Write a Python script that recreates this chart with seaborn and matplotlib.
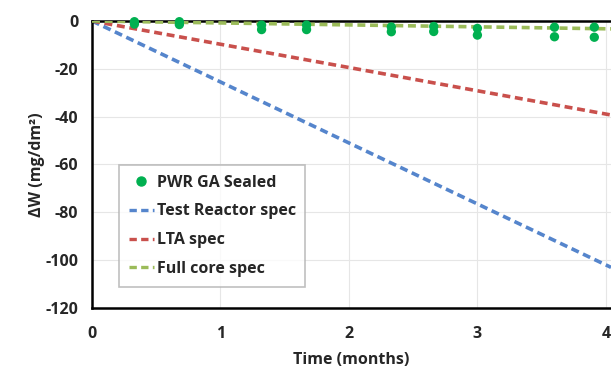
import pandas as pd
import numpy as np
import matplotlib
matplotlib.use("Agg")
import matplotlib.pyplot as plt
from matplotlib.lines import Line2D
import seaborn as sns

# measured weight change, PWR GA sealed (two specimens per time)
sample_time = [0.33, 0.33, 0.68, 0.68, 1.32, 1.32, 1.67, 1.67, 2.33, 2.33,
               2.66, 2.66, 3.0, 3.0, 3.6, 3.6, 3.91, 3.91]
sample_dw = [-0.3, -1.3, -0.3, -1.5, -1.7, -3.6, -1.7, -3.6, -2.5, -4.5,
             -2.3, -4.4, -3.1, -5.9, -2.6, -6.6, -2.6, -6.8]

# spec lines (start / end points)
spec_time = [0, 4.04]
test_reactor_spec = [0, -103]
lta_spec = [0, -39.3]
full_core_spec = [0, -3.3]

sns.set_theme(style="white")
plt.rcParams['font.family'] = ['Open Sans', 'DejaVu Sans']
plt.rcParams['font.weight'] = 'bold'
plt.rcParams['axes.unicode_minus'] = False

pts = pd.DataFrame({'t': sample_time, 'dw': sample_dw})
specs = pd.DataFrame({
    't': spec_time * 3,
    'dw': test_reactor_spec + lta_spec + full_core_spec,
    'spec': ['Test Reactor spec'] * 2 + ['LTA spec'] * 2 + ['Full core spec'] * 2,
})

fig = plt.figure(figsize=(6.11, 3.68), dpi=100)
ax = fig.add_axes([0.1506, 0.163, 0.8494, 0.78])

ax.grid(True, color='#e6e6e6', lw=0.8)
ax.set_axisbelow(True)

palette = {'Test Reactor spec': '#5585cc', 'LTA spec': '#c9504c', 'Full core spec': '#9bbb59'}
sns.lineplot(data=specs, x='t', y='dw', hue='spec', palette=palette, ax=ax,
             lw=2.6, linestyle=(0, (2.2, 1.3)), legend=False)
ax.lines[-1].set_zorder(4)
sns.scatterplot(data=pts, x='t', y='dw', color='#00b050', s=45, edgecolor='none',
                ax=ax, zorder=5, clip_on=False, legend=False)

ax.set_xlim(0, 4.04)
ax.set_ylim(-120, 0)
ax.set_xticks([0, 1, 2, 3, 4])
ax.set_yticks(range(-120, 1, 20))
ax.tick_params(axis='both', labelsize=11.5, length=5, width=1.3, color='black', direction='out')
ax.tick_params(axis='x', pad=8)
ax.tick_params(axis='y', pad=5)
for lab in ax.get_xticklabels() + ax.get_yticklabels():
    lab.set_fontweight('bold')
for s in ['left', 'bottom', 'top']:
    ax.spines[s].set_color('black')
    ax.spines[s].set_linewidth(1.8)
ax.spines['right'].set_visible(False)

ax.set_xlabel('Time (months)', fontsize=11.5, fontweight='bold', labelpad=7)
ax.set_ylabel('ΔW (mg/dm²)', fontsize=11.5, fontweight='bold', labelpad=0)

handles = [Line2D([], [], marker='o', color='#00b050', ls='none', ms=6.5)]
for name in ['Test Reactor spec', 'LTA spec', 'Full core spec']:
    handles.append(Line2D([], [], color=palette[name], lw=2.4, ls=(0, (2.2, 1.3))))
leg = ax.legend(handles, ['PWR GA Sealed', 'Test Reactor spec', 'LTA spec', 'Full core spec'],
                loc='upper left', bbox_to_anchor=(0.052, 0.498),
                prop={'weight': 'bold', 'size': 11.5},
                frameon=True, fancybox=False, edgecolor='#b0b0b0', handlelength=1.6,
                handletextpad=0.15, borderpad=0.6, labelspacing=0.8, borderaxespad=0)
leg.get_frame().set_linewidth(1.2)

fig.savefig('out.png', dpi=100)
